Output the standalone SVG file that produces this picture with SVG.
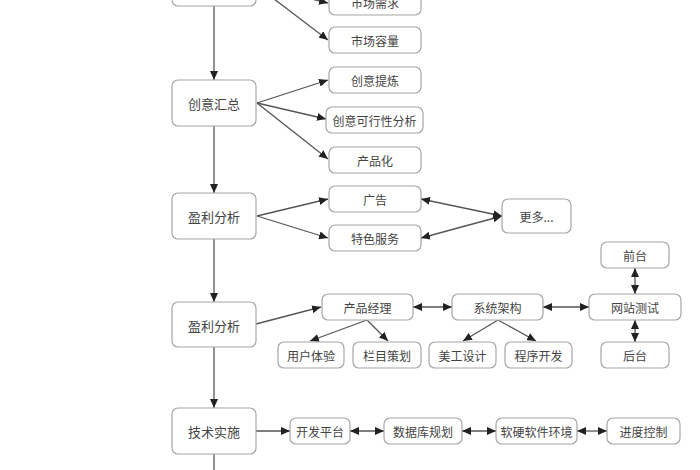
<svg xmlns="http://www.w3.org/2000/svg" width="700" height="470" viewBox="0 0 700 470">
<style>
.box{fill:#fff;stroke:#a6a6a6;stroke-width:1.2}
.t{font-family:"Noto Sans CJK SC","Noto Sans",sans-serif;font-size:12px;fill:#444;text-anchor:middle;dominant-baseline:central}
.tm{font-size:13px}
.c{fill:none;stroke:#555;stroke-width:1.3}
.a{marker-end:url(#ah)}
.d{marker-start:url(#ah);marker-end:url(#ah)}
</style>
<defs>
<marker id="ah" markerUnits="userSpaceOnUse" markerWidth="9" markerHeight="8" refX="9" refY="4" orient="auto-start-reverse" viewBox="0 0 9 8">
<path d="M0,0 L9,4 L0,8 z" fill="#222"/>
</marker>
</defs>
<rect width="700" height="470" fill="#fff"/>
<g id="connectors">
<line class="c a" x1="214" y1="6" x2="214" y2="80"/>
<line class="c a" x1="214" y1="126" x2="214" y2="193"/>
<line class="c a" x1="214" y1="239" x2="214" y2="302"/>
<line class="c a" x1="214" y1="347" x2="214" y2="408"/>
<line class="c" x1="214" y1="454" x2="214" y2="470"/>
<line class="c a" x1="257" y1="-14" x2="328" y2="3"/>
<line class="c a" x1="257" y1="-14" x2="328" y2="40"/>
<line class="c a" x1="257" y1="103" x2="328" y2="80"/>
<line class="c a" x1="257" y1="103" x2="326" y2="119"/>
<line class="c a" x1="257" y1="103" x2="328" y2="159"/>
<line class="c a" x1="257" y1="216" x2="328" y2="199"/>
<line class="c a" x1="257" y1="216" x2="328" y2="238"/>
<line class="c d" x1="421" y1="199" x2="502" y2="216"/>
<line class="c d" x1="421" y1="238" x2="502" y2="216"/>
<line class="c a" x1="256" y1="324" x2="321" y2="307"/>
<line class="c a" x1="367" y1="320" x2="310" y2="341"/>
<line class="c a" x1="367" y1="320" x2="388" y2="341"/>
<line class="c d" x1="413" y1="307" x2="452" y2="307"/>
<line class="c a" x1="498" y1="320" x2="463" y2="341"/>
<line class="c a" x1="498" y1="320" x2="536" y2="341"/>
<line class="c d" x1="543" y1="307" x2="589" y2="307"/>
<line class="c d" x1="635" y1="268" x2="635" y2="294"/>
<line class="c d" x1="635" y1="320" x2="635" y2="342"/>
<line class="c a" x1="256" y1="431" x2="290" y2="431"/>
<line class="c d" x1="350" y1="431" x2="384" y2="431"/>
<line class="c d" x1="462" y1="431" x2="496" y2="431"/>
<line class="c d" x1="577" y1="431" x2="607" y2="431"/>
</g>
<g id="n-top"><rect class="box" x="172" y="-40" width="84" height="46" rx="6"/></g>
<g id="n-xuqiu"><rect class="box" x="329" y="-11" width="92" height="26" rx="6"/><text class="t" x="375" y="2">市场需求</text></g>
<g id="n-rongliang"><rect class="box" x="329" y="27" width="92" height="26" rx="6"/><text class="t" x="375" y="40">市场容量</text></g>
<g id="n-chuangyi"><rect class="box" x="172" y="80" width="84" height="46" rx="6"/><text class="t tm" x="214" y="103">创意汇总</text></g>
<g id="n-tilian"><rect class="box" x="329" y="67" width="92" height="26" rx="6"/><text class="t" x="375" y="80">创意提炼</text></g>
<g id="n-kexing"><rect class="box" x="326" y="107" width="97" height="26" rx="6"/><text class="t" x="374.5" y="120">创意可行性分析</text></g>
<g id="n-chanpinhua"><rect class="box" x="329" y="147" width="92" height="26" rx="6"/><text class="t" x="375" y="160">产品化</text></g>
<g id="n-yingli1"><rect class="box" x="172" y="193" width="84" height="46" rx="6"/><text class="t tm" x="214" y="216">盈利分析</text></g>
<g id="n-guanggao"><rect class="box" x="329" y="186" width="92" height="26" rx="6"/><text class="t" x="375" y="199">广告</text></g>
<g id="n-tese"><rect class="box" x="329" y="225" width="92" height="26" rx="6"/><text class="t" x="375" y="238">特色服务</text></g>
<g id="n-gengduo"><rect class="box" x="502" y="199" width="69" height="34" rx="6"/><text class="t" x="536.5" y="216">更多...</text></g>
<g id="n-yingli2"><rect class="box" x="172" y="302" width="84" height="45" rx="6"/><text class="t tm" x="214" y="325">盈利分析</text></g>
<g id="n-jingli"><rect class="box" x="322" y="294" width="91" height="26" rx="6"/><text class="t" x="367.5" y="307">产品经理</text></g>
<g id="n-tiyan"><rect class="box" x="278" y="342" width="66" height="26" rx="6"/><text class="t" x="311" y="355">用户体验</text></g>
<g id="n-cehua"><rect class="box" x="353" y="342" width="68" height="26" rx="6"/><text class="t" x="387" y="355">栏目策划</text></g>
<g id="n-jiagou"><rect class="box" x="452" y="294" width="91" height="26" rx="6"/><text class="t" x="497.5" y="307">系统架构</text></g>
<g id="n-meigong"><rect class="box" x="429" y="342" width="67" height="26" rx="6"/><text class="t" x="462.5" y="355">美工设计</text></g>
<g id="n-kaifa"><rect class="box" x="505" y="342" width="67" height="26" rx="6"/><text class="t" x="538.5" y="355">程序开发</text></g>
<g id="n-ceshi"><rect class="box" x="589" y="294" width="92" height="26" rx="6"/><text class="t" x="635" y="307">网站测试</text></g>
<g id="n-qiantai"><rect class="box" x="601" y="242" width="68" height="26" rx="6"/><text class="t" x="635" y="255">前台</text></g>
<g id="n-houtai"><rect class="box" x="601" y="342" width="68" height="26" rx="6"/><text class="t" x="635" y="355">后台</text></g>
<g id="n-jishu"><rect class="box" x="172" y="408" width="84" height="46" rx="6"/><text class="t tm" x="214" y="431">技术实施</text></g>
<g id="n-pingtai"><rect class="box" x="290" y="418" width="60" height="26" rx="6"/><text class="t" x="320" y="431">开发平台</text></g>
<g id="n-shujuku"><rect class="box" x="384" y="418" width="78" height="26" rx="6"/><text class="t" x="423" y="431">数据库规划</text></g>
<g id="n-huanjing"><rect class="box" x="496" y="418" width="81" height="26" rx="6"/><text class="t" x="536.5" y="431">软硬软件环境</text></g>
<g id="n-jindu"><rect class="box" x="607" y="418" width="73" height="26" rx="6"/><text class="t" x="643.5" y="431">进度控制</text></g>
</svg>
